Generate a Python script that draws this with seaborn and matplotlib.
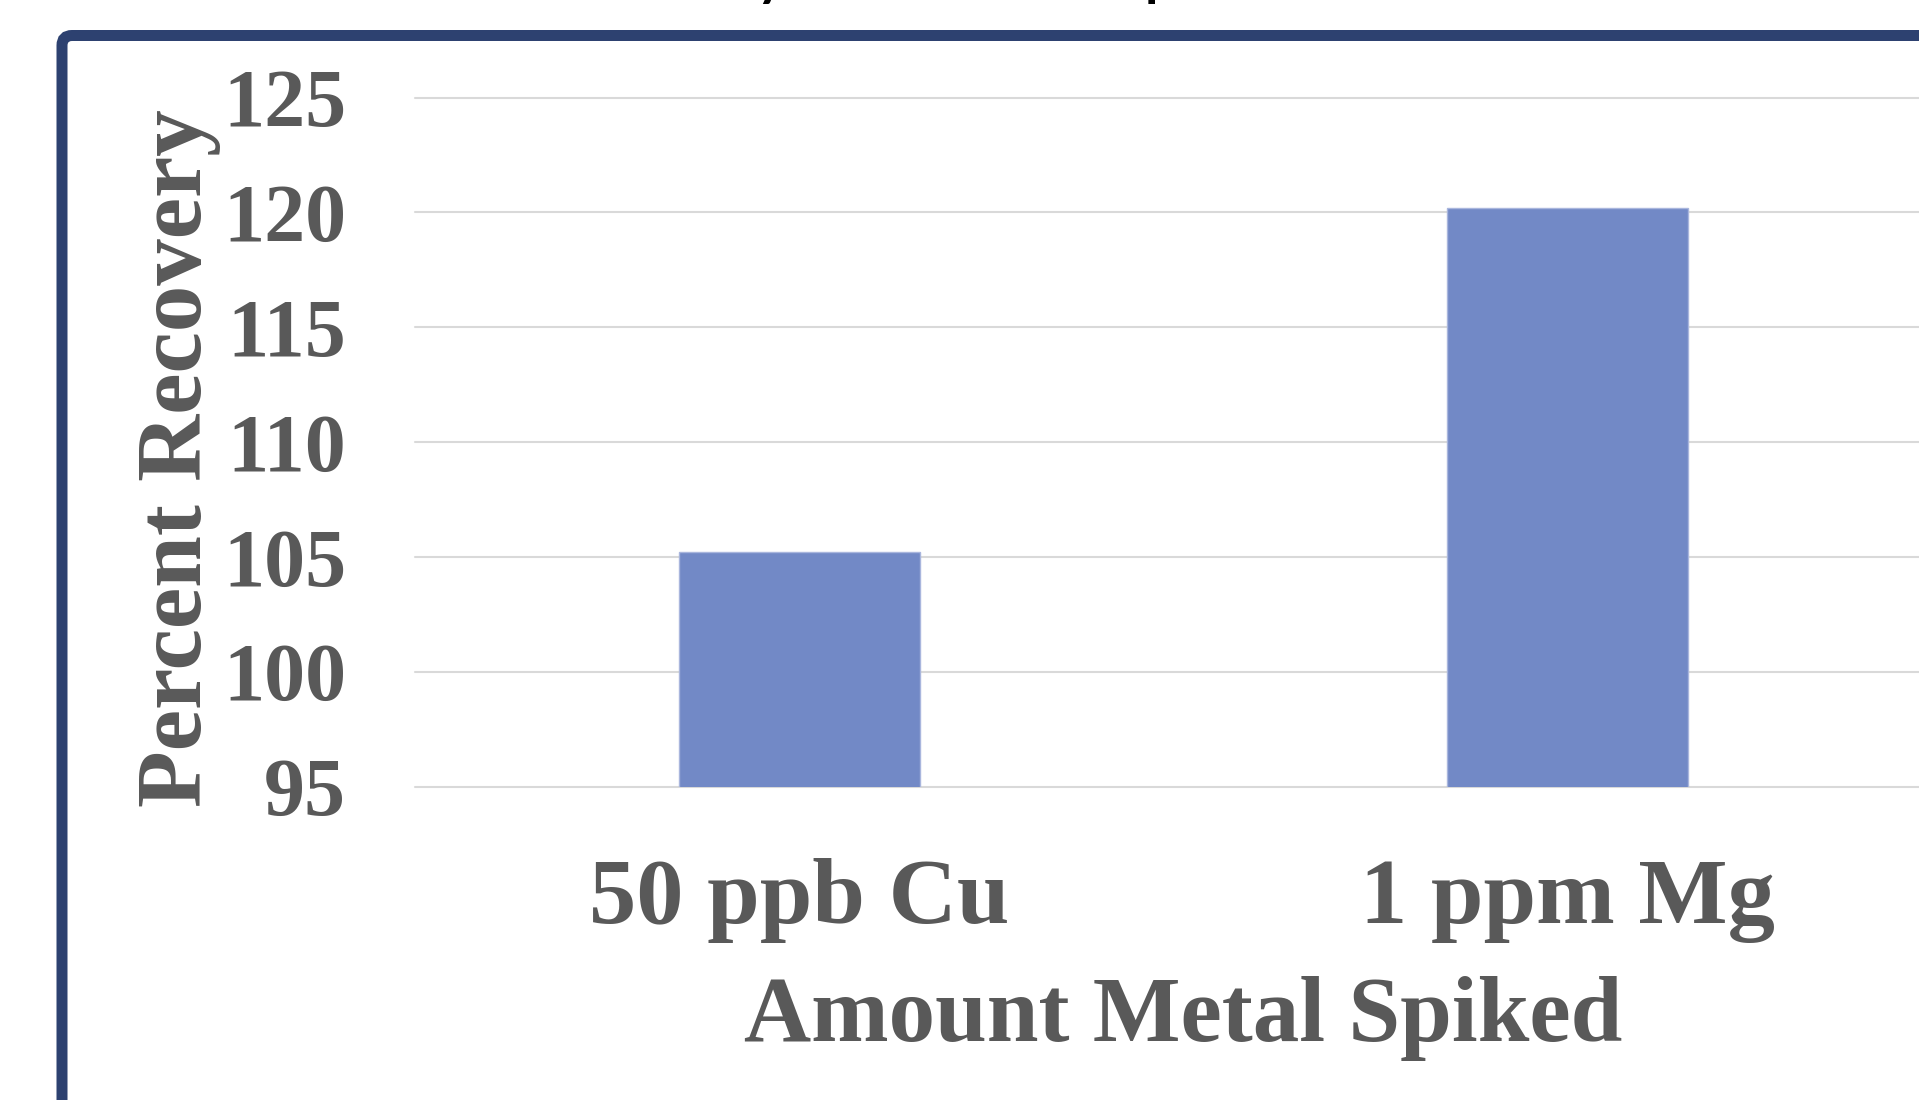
import matplotlib
matplotlib.use("Agg")
import matplotlib.pyplot as plt
import matplotlib.transforms as mtransforms
from matplotlib.patches import FancyBboxPatch
import pandas as pd
import seaborn as sns

# data
categories = ["50 ppb Cu", "1 ppm Mg"]
recovery = [105.2, 120.2]
y_ticks = [95, 100, 105, 110, 115, 120, 125]

df = pd.DataFrame({"spike": categories, "recovery": recovery})

sns.set_theme(style="whitegrid")
plt.rcParams["font.family"] = ["Liberation Serif", "DejaVu Serif"]

gray = "#595959"
bar_color = "#7289C6"
frame_color = "#2D4170"

fig = plt.figure(figsize=(19.19, 11), dpi=100)
fig.patch.set_facecolor("white")

# axes runs past the right edge, like the cropped reference
ax = fig.add_axes([0.2165, 0.2848, 0.8004, 0.6265])
ax.set_facecolor("white")

sns.barplot(data=df, x="spike", y="recovery", color=bar_color, width=0.314,
            saturation=1, edgecolor="#A9B6DD", linewidth=1, ax=ax)

ax.set_ylim(95, 125)
ax.set_yticks(y_ticks)
ax.set_xlim(-0.5, 1.5)

# grid lines
ax.yaxis.grid(True, color="#D9D9D9", linewidth=1.5)
ax.xaxis.grid(False)
for line in ax.get_ygridlines():
    line.set_clip_on(False)
ax.set_axisbelow(True)
for s in ax.spines.values():
    s.set_visible(False)

ax.tick_params(axis="y", length=0, pad=50, labelsize=59, labelcolor=gray)
ax.tick_params(axis="x", length=0, pad=51, labelsize=68, labelcolor=gray)
for lab in ax.get_xticklabels() + ax.get_yticklabels():
    lab.set_fontweight("bold")

ax.set_xlabel("Amount Metal Spiked", fontsize=67, fontweight="bold",
              color=gray, labelpad=24)
ax.set_ylabel("Percent Recovery", fontsize=67, fontweight="bold", color=gray)
ax.yaxis.set_label_coords(-0.1266, 0.477)

# cropped title at the very top, only descenders show
fig.text(217 / 1919, 1 + 9 / 1100, "Percent Recovery of Metal Spikes", fontsize=53,
         family=["Lato", "DejaVu Sans"], color="black", va="baseline", ha="left")

# navy frame, cut off at right and bottom
frame = FancyBboxPatch((62, -60), 1950, 1100 - 35.5 + 60,
                       boxstyle="round,pad=0,rounding_size=10",
                       transform=mtransforms.IdentityTransform(),
                       facecolor="none", edgecolor=frame_color,
                       linewidth=11 * 72 / 100, zorder=10)
fig.add_artist(frame)

fig.savefig("out.png", dpi=100)
plt.close(fig)
